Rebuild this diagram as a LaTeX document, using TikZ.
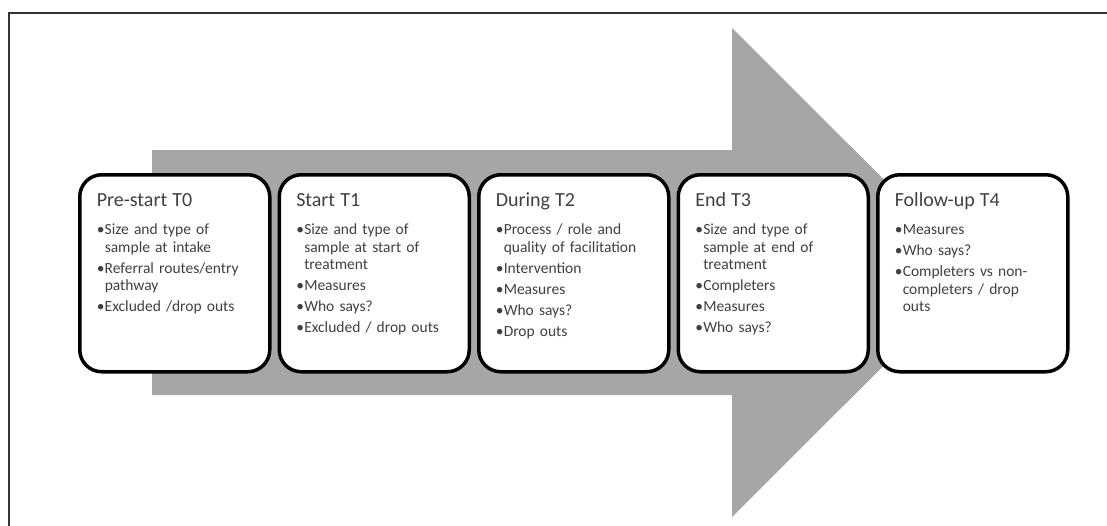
\documentclass[tikz,border=0pt]{standalone}
\usepackage{fontspec}
\setmainfont{Carlito}
\usepackage{xcolor}
\usepackage{tikz}
\usetikzlibrary{positioning}

\definecolor{arrowgray}{RGB}{166,166,166}
\definecolor{textgray}{RGB}{64,64,64}
\newcommand{\stagetitle}[1]{{\fontsize{20}{22}\selectfont #1\par}\vspace{7pt}}
\newcommand{\bitem}[1]{{\leftskip=8pt\noindent\llap{\makebox[8pt][l]{\textbullet}}#1\par}}

\begin{document}
\begin{tikzpicture}[x=1pt, y=-1pt,
stage/.style={rectangle, draw=black, fill=white, line width=3.5pt, rounded corners=22pt, text width=156pt, inner xsep=17pt, inner ysep=6pt, text height=26pt, text depth=159pt, align=left, text=textgray, font=\fontsize{15.5}{17.5}\selectfont, execute at begin node={\setlength{\parskip}{3.5pt}\hyphenpenalty=10000}}
]
	\clip (0,0) rectangle (1107,525);
	\draw[line width=1.5pt, draw=black!80] (9,540) -- (9,13) -- (1120,13);
	% big background arrow
	\fill[arrowgray] (152,150) -- (732,150) -- (732,28) -- (977,272.5) -- (732,517) -- (732,395) -- (152,395) -- cycle;
	\node[stage, anchor=north west] (t0) at (78,173) {\stagetitle{Pre-start T0}
		\bitem{Size and type of\break sample at intake}
		\bitem{Referral routes/entry\break pathway}
		\bitem{Excluded /drop outs}};
	\node[stage, anchor=west, shift={(6pt,0pt)}] (t1) at (t0.east) {\stagetitle{Start T1}
		\bitem{Size and type of\break sample at start of\break treatment}
		\bitem{Measures}
		\bitem{Who says?}
		\bitem{Excluded / drop outs}};
	\node[stage, anchor=west, shift={(6pt,0pt)}] (t2) at (t1.east) {\stagetitle{During T2}
		\bitem{Process / role and\break quality of facilitation}
		\bitem{Intervention}
		\bitem{Measures}
		\bitem{Who says?}
		\bitem{Drop outs}};
	\node[stage, anchor=west, shift={(6pt,0pt)}] (t3) at (t2.east) {\stagetitle{End T3}
		\bitem{Size and type of\break sample at end of\break treatment}
		\bitem{Completers}
		\bitem{Measures}
		\bitem{Who says?}};
	\node[stage, anchor=west, shift={(6pt,0pt)}] (t4) at (t3.east) {\stagetitle{Follow-up T4}
		\bitem{Measures}
		\bitem{Who says?}
		\bitem{Completers vs non-\break completers / drop\break outs}};
\end{tikzpicture}
\end{document}
